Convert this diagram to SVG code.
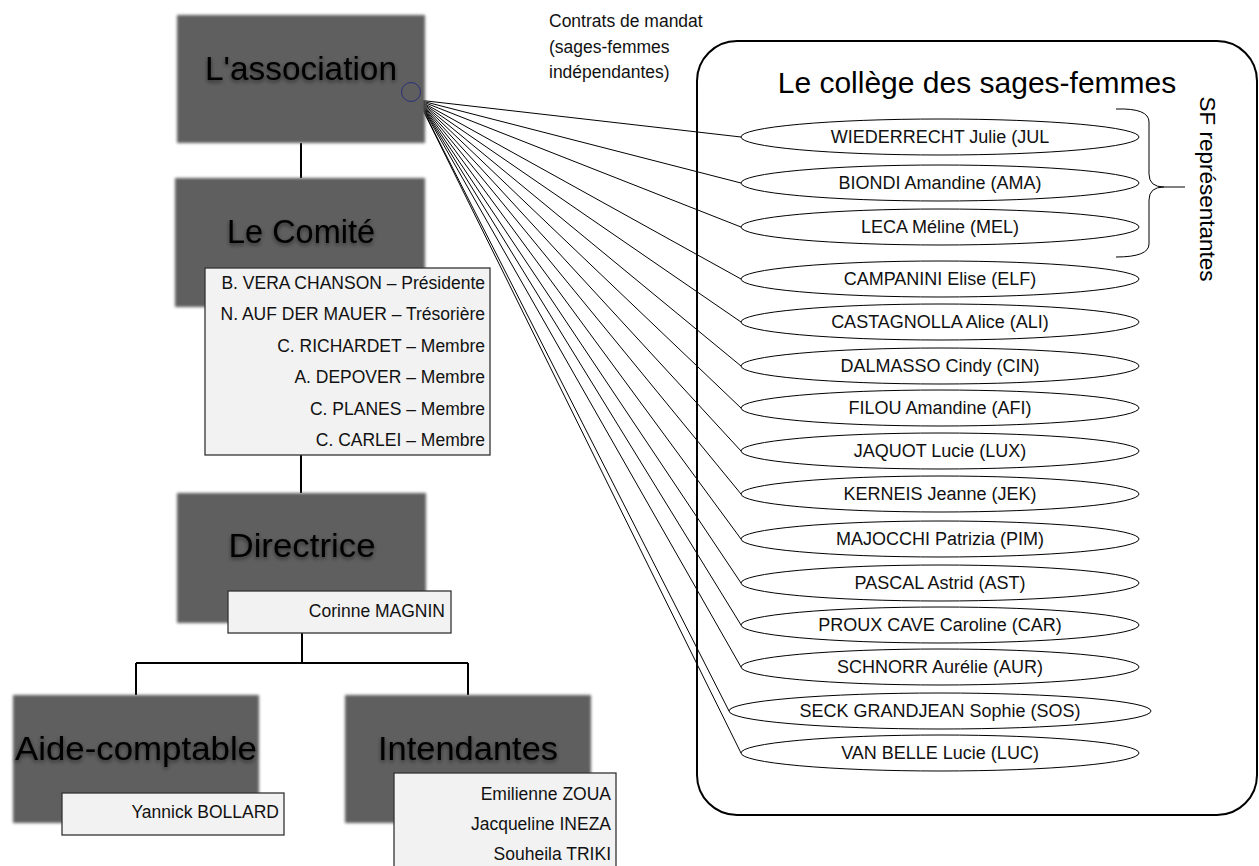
<svg xmlns="http://www.w3.org/2000/svg" width="1259" height="866" viewBox="0 0 1259 866">
<defs>
<filter id="soft" x="-5%" y="-5%" width="110%" height="110%"><feGaussianBlur stdDeviation="1.8"/></filter>
<filter id="tsh" x="-5%" y="-20%" width="110%" height="150%"><feGaussianBlur in="SourceAlpha" stdDeviation="2" result="b"/><feOffset in="b" dy="2" result="o"/><feComponentTransfer in="o" result="c"><feFuncA type="linear" slope="0.55"/></feComponentTransfer><feMerge><feMergeNode in="c"/><feMergeNode in="SourceGraphic"/></feMerge></filter>
</defs>
<style>
.box{fill:#5f5f5f;filter:url(#soft)}
.title{font-family:"Liberation Sans",Arial,sans-serif;font-size:34px;fill:#000;text-anchor:middle;filter:url(#tsh)}
.lbl{fill:#f2f2f2;stroke:#333;stroke-width:1.3}
.t{font-family:"Liberation Sans",Arial,sans-serif;font-size:17.5px;fill:#111}
.r{text-anchor:end}
.c{text-anchor:middle}
.org{fill:none;stroke:#000;stroke-width:2}
.fan{fill:none;stroke:#000;stroke-width:1}
.el{fill:#fff;stroke:#000;stroke-width:1}
.et{font-family:"Liberation Sans",Arial,sans-serif;font-size:18px;fill:#111;text-anchor:middle}
</style>
<rect width="1259" height="866" fill="#fff"/>

<g id="connectors">
<path class="org" d="M301,143 V178 M301,455 V493 M302,633 V663 M136,663 H468 M136,663 V695 M468,663 V695"/>
<g class="fan">
<line x1="418" y1="100" x2="741" y2="137"/>
<line x1="418" y1="100" x2="741" y2="183"/>
<line x1="418" y1="100" x2="741" y2="227"/>
<line x1="418" y1="100" x2="741" y2="279"/>
<line x1="418" y1="100" x2="741" y2="322"/>
<line x1="418" y1="100" x2="741" y2="366"/>
<line x1="418" y1="100" x2="741" y2="408"/>
<line x1="418" y1="100" x2="741" y2="451"/>
<line x1="418" y1="100" x2="741" y2="494"/>
<line x1="418" y1="100" x2="741" y2="539"/>
<line x1="418" y1="100" x2="741" y2="583"/>
<line x1="418" y1="100" x2="741" y2="625"/>
<line x1="418" y1="100" x2="741" y2="667"/>
<line x1="418" y1="100" x2="729" y2="711"/>
<line x1="418" y1="100" x2="741" y2="753"/>
</g>
</g>

<g id="association">
<rect class="box" x="177" y="15" width="248" height="128"/>
<text class="title" x="301" y="80" textLength="192" lengthAdjust="spacingAndGlyphs">L'association</text>
<circle cx="411" cy="92" r="9.5" fill="none" stroke="#2b2f7a" stroke-width="1"/>
</g>

<g id="comite">
<rect class="box" x="175" y="178" width="250" height="129"/>
<text class="title" x="301" y="243" textLength="148" lengthAdjust="spacingAndGlyphs">Le Comité</text>
<rect class="lbl" x="205" y="268" width="285" height="187"/>
<text class="t r" x="485" y="289">B. VERA CHANSON – Présidente</text>
<text class="t r" x="485" y="320">N. AUF DER MAUER – Trésorière</text>
<text class="t r" x="485" y="352">C. RICHARDET – Membre</text>
<text class="t r" x="485" y="383">A. DEPOVER – Membre</text>
<text class="t r" x="485" y="415">C. PLANES – Membre</text>
<text class="t r" x="485" y="446">C. CARLEI – Membre</text>
</g>

<g id="directrice">
<rect class="box" x="177" y="493" width="249" height="130"/>
<text class="title" x="302" y="557" textLength="147" lengthAdjust="spacingAndGlyphs">Directrice</text>
<rect class="lbl" x="228" y="591" width="223" height="42"/>
<text class="t r" x="445" y="617">Corinne MAGNIN</text>
</g>

<g id="aide-comptable">
<rect class="box" x="13" y="695" width="246" height="128"/>
<text class="title" x="136" y="760" textLength="242" lengthAdjust="spacingAndGlyphs">Aide-comptable</text>
<rect class="lbl" x="62" y="793" width="222" height="42"/>
<text class="t r" x="279" y="818">Yannick BOLLARD</text>
</g>

<g id="intendantes">
<rect class="box" x="345" y="695" width="246" height="128"/>
<text class="title" x="468" y="760" textLength="180" lengthAdjust="spacingAndGlyphs">Intendantes</text>
<rect class="lbl" x="394" y="773" width="222" height="100"/>
<text class="t r" x="611" y="800">Emilienne ZOUA</text>
<text class="t r" x="611" y="830">Jacqueline INEZA</text>
<text class="t r" x="611" y="860">Souheila TRIKI</text>
</g>

<g id="contrats-label">
<text class="t" x="549" y="27" font-size="18">Contrats de mandat</text>
<text class="t" x="549" y="53" font-size="18">(sages-femmes</text>
<text class="t" x="549" y="78" font-size="18">indépendantes)</text>
</g>

<g id="college">
<rect x="697" y="41" width="560" height="774" rx="40" ry="40" fill="none" stroke="#000" stroke-width="2"/>
<text x="977" y="93" font-family="'Liberation Sans',Arial,sans-serif" font-size="30" fill="#000" text-anchor="middle">Le collège des sages-femmes</text>
</g>

<g id="sf-representantes">
<path d="M1116,109 Q1149,108 1149,122 L1149,174 Q1149,187 1164,187 L1185,187 M1164,187 Q1149,187 1149,200 L1149,244 Q1149,257 1116,257" fill="none" stroke="#000" stroke-width="1"/>
<text transform="translate(1200,189) rotate(90)" x="0" y="0" font-family="'Liberation Sans',Arial,sans-serif" font-size="22.5" fill="#000" text-anchor="middle">SF représentantes</text>
</g>

<g id="sf-jul"><ellipse class="el" cx="940" cy="137" rx="199" ry="18"/><text class="et" x="940" y="143">WIEDERRECHT Julie (JUL</text></g>
<g id="sf-ama"><ellipse class="el" cx="940" cy="183" rx="199" ry="18"/><text class="et" x="940" y="189">BIONDI Amandine (AMA)</text></g>
<g id="sf-mel"><ellipse class="el" cx="940" cy="227" rx="199" ry="18"/><text class="et" x="940" y="233">LECA Méline (MEL)</text></g>
<g id="sf-elf"><ellipse class="el" cx="940" cy="279" rx="199" ry="18"/><text class="et" x="940" y="285">CAMPANINI Elise (ELF)</text></g>
<g id="sf-ali"><ellipse class="el" cx="940" cy="322" rx="199" ry="18"/><text class="et" x="940" y="328">CASTAGNOLLA Alice (ALI)</text></g>
<g id="sf-cin"><ellipse class="el" cx="940" cy="366" rx="199" ry="18"/><text class="et" x="940" y="372">DALMASSO Cindy (CIN)</text></g>
<g id="sf-afi"><ellipse class="el" cx="940" cy="408" rx="199" ry="18"/><text class="et" x="940" y="414">FILOU Amandine (AFI)</text></g>
<g id="sf-lux"><ellipse class="el" cx="940" cy="451" rx="199" ry="18"/><text class="et" x="940" y="457">JAQUOT Lucie (LUX)</text></g>
<g id="sf-jek"><ellipse class="el" cx="940" cy="494" rx="199" ry="18"/><text class="et" x="940" y="500">KERNEIS Jeanne (JEK)</text></g>
<g id="sf-pim"><ellipse class="el" cx="940" cy="539" rx="199" ry="18"/><text class="et" x="940" y="545">MAJOCCHI Patrizia (PIM)</text></g>
<g id="sf-ast"><ellipse class="el" cx="940" cy="583" rx="199" ry="18"/><text class="et" x="940" y="589">PASCAL Astrid (AST)</text></g>
<g id="sf-car"><ellipse class="el" cx="940" cy="625" rx="199" ry="18"/><text class="et" x="940" y="631">PROUX CAVE Caroline (CAR)</text></g>
<g id="sf-aur"><ellipse class="el" cx="940" cy="667" rx="199" ry="18"/><text class="et" x="940" y="673">SCHNORR Aurélie (AUR)</text></g>
<g id="sf-sos"><ellipse class="el" cx="940" cy="711" rx="211" ry="18"/><text class="et" x="940" y="717">SECK GRANDJEAN Sophie (SOS)</text></g>
<g id="sf-luc"><ellipse class="el" cx="940" cy="753" rx="199" ry="18"/><text class="et" x="940" y="759">VAN BELLE Lucie (LUC)</text></g>
</svg>
